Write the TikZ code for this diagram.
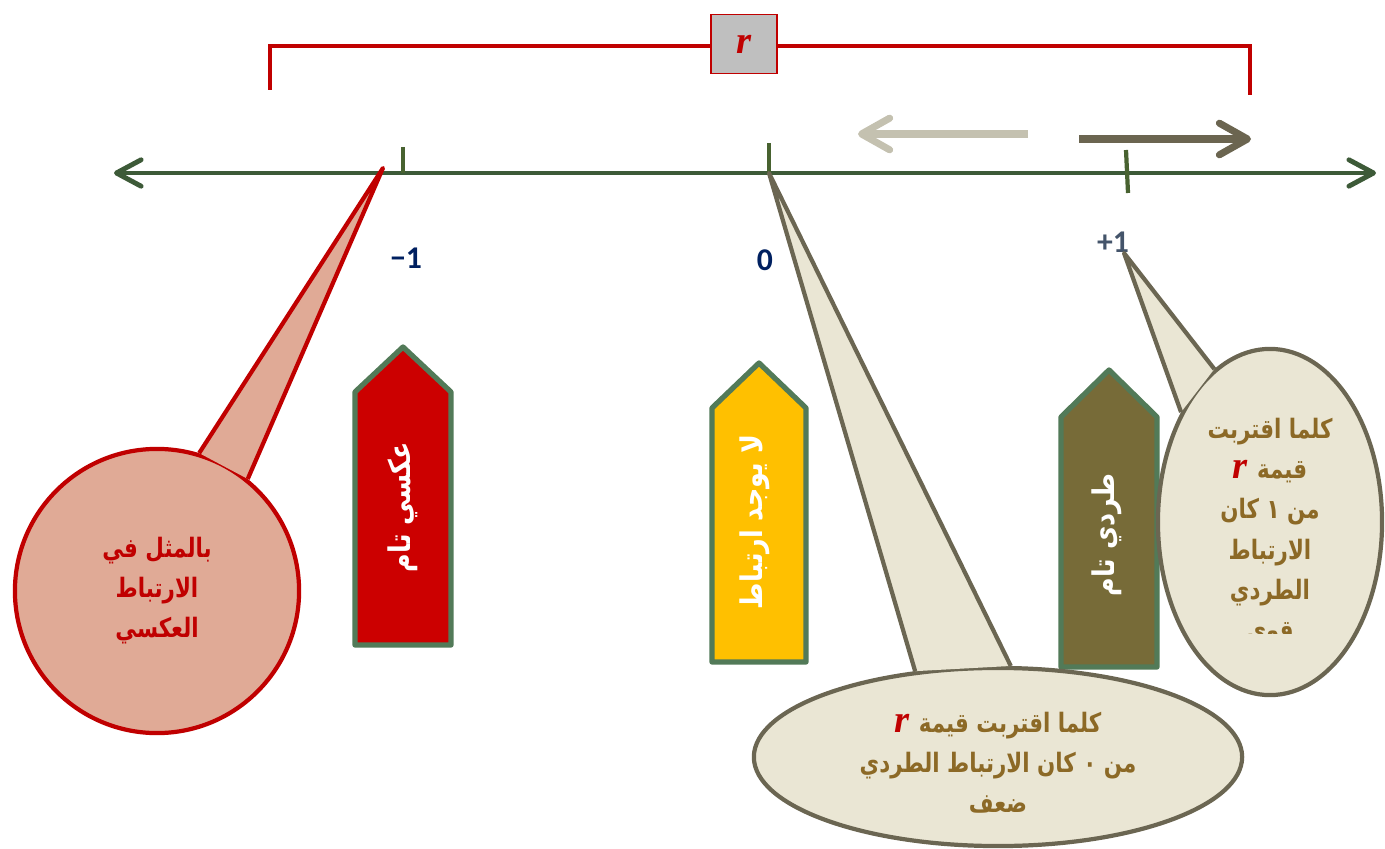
\documentclass[tikz,border=0pt]{standalone}
\usepackage{fontspec}
\usepackage{tikz}
\usetikzlibrary{positioning, shapes.geometric, arrows.meta}
\newfontfamily\arabicfont[Script=Arabic]{DejaVu Sans}
\newfontfamily\numfont{Carlito}
\newfontfamily\rfont{Liberation Serif}
\TeXXeTstate=1
\definecolor{axisgreen}{RGB}{61,90,56}
\definecolor{tickgreen}{RGB}{72,98,48}
\definecolor{bracketred}{RGB}{192,0,0}
\definecolor{boxgray}{RGB}{191,191,191}
\definecolor{navy}{RGB}{0,32,96}
\definecolor{slate}{RGB}{68,84,106}
\definecolor{lightarrow}{RGB}{196,193,176}
\definecolor{darkarrow}{RGB}{107,101,80}
\definecolor{pentborder}{RGB}{82,122,88}
\definecolor{pentred}{RGB}{204,0,0}
\definecolor{pentyellow}{RGB}{255,192,0}
\definecolor{pentolive}{RGB}{119,107,56}
\definecolor{bubblefill}{RGB}{234,230,212}
\definecolor{bubbleline}{RGB}{107,102,82}
\definecolor{bubbletext}{RGB}{140,105,38}
\definecolor{pinkfill}{RGB}{224,170,150}
\newcommand{\ar}[2][0.8]{\scalebox{#1}[1]{\beginR #2\endR}}
\newcommand{\rval}{\hbox{{\rfont\bfseries\itshape\fontsize{11}{12}\selectfont\color{bracketred}r}}}

\begin{document}
\begin{tikzpicture}[x=0.01cm, y=-0.01cm,
    axis/.style={draw=axisgreen, line width=1.4pt, <->, >={Straight Barb[round,length=7pt,width=7.5pt]}},
    tickmark/.style={draw=tickgreen, line width=1.2pt},
    num/.style={font=\numfont\bfseries\fontsize{9}{11}\selectfont},
    hint/.style={line width=2pt, ->, >={Straight Barb[round,length=8pt,width=9pt]}},
    pent/.style={draw=pentborder, line width=1.5pt, line join=round},
    penttext/.style={rotate=90, text=white, font=\arabicfont\bfseries\fontsize{8.5}{12}\selectfont},
    bubble/.style={draw=bubbleline, fill=bubblefill, line width=1.2pt, inner sep=0pt},
    bubbletxt/.style={align=center, text=bubbletext, font=\arabicfont\bfseries\fontsize{7.6}{11.4}\selectfont}]
    \useasboundingbox (0,0) rectangle (1385,849);

    % range of r
    \draw[bracketred, line width=1.4pt] (270,90) -- (270,46) -- (1250,46) -- (1250,95);
    \node[draw=bracketred, fill=boxgray, minimum width=0.66cm, minimum height=0.59cm, inner sep=0pt] (rbox) at (744,44) {\rval};

    % direction hints
    \draw[hint, lightarrow] (1028,134) -- (858,134);
    \draw[hint, darkarrow] (1079,139) -- (1251,139);

    % number line
    \coordinate (left) at (114,173);
    \coordinate (right) at (1376,173);
    \draw[axis] (left) -- (right);
    \coordinate (m1) at (403,173);
    \coordinate (o) at (769,173);
    \coordinate (p1) at (1127,173);
    \draw[tickmark] (403,147) -- (m1);
    \draw[tickmark] (769,143) -- (o);
    \draw[tickmark] (1126,150) -- (1128,193);
    \node[num, text=navy] (mone) at (406,258) {\beginL\hbox{−}\hbox{1}\endL};
    \node[num, text=navy] (zero) at (765,260) {0};
    \node[num, text=slate] (pone) at (1113,242) {\hbox{+}\hbox{1}};

    % labels on arrows
    \draw[pent, fill=pentred] (355,645) -- (355,392) -- (403,347) -- (451,392) -- (451,645) -- cycle;
    \node[penttext] (inv) at (403,507) {\ar[0.85]{عكسي تام}};
    \draw[pent, fill=pentyellow] (712,662) -- (712,408) -- (759,363) -- (806,408) -- (806,662) -- cycle;
    \node[penttext] (none) at (755,522) {\ar[0.85]{لا يوجد ارتباط}};
    \draw[pent, fill=pentolive] (1061,667) -- (1061,417) -- (1109,370) -- (1157,417) -- (1157,667) -- cycle;
    \node[penttext] (dir) at (1107,535) {\ar[0.85]{طردي تام}};

    % callout at -1
    \node[circle, draw=bracketred, fill=pinkfill, line width=1.2pt, minimum size=2.84cm, inner sep=0pt] (cneg) at (157,591) {};
    \coordinate (tipneg) at (383,168);
    \fill[pinkfill] (cneg.73) -- (tipneg) -- (cneg.51) -- cycle;
    \draw[bracketred, line width=1.2pt, line join=round] (cneg.73) -- (tipneg) -- (cneg.51);
    \node[bubbletxt, text=bracketred] (tneg) at (157,591) {\ar{بالمثل في}\\\ar{الارتباط}\\\ar{العكسي}};

    % callout at 0
    \node[bubble, ellipse, minimum width=4.88cm, minimum height=1.78cm] (czero) at (998,757) {};
    \fill[bubblefill] (czero.134) -- (o) -- (czero.82) -- cycle;
    \draw[bubbleline, line width=1.2pt, line join=round] (czero.134) -- (o) -- (czero.82);
    \node[bubbletxt] (tzero) at (998,763) {\rval\ \ar{كلما اقتربت قيمة}\\\ar{من ٠ كان الارتباط الطردي}\\\ar{ضعف}};

    % callout at +1
    \node[bubble, ellipse, minimum width=2.24cm, minimum height=3.46cm] (cpos) at (1270,522) {};
    \coordinate (tippos) at (1124,253);
    \fill[bubblefill] (cpos.129) -- (tippos) -- (cpos.110) -- cycle;
    \draw[bubbleline, line width=1.2pt, line join=round] (cpos.129) -- (tippos) -- (cpos.110);
    \begin{scope}
        \clip (1150,380) rectangle (1385,633);
        \node[bubbletxt, anchor=north] (tpos) at (1270,406) {\ar{كلما اقتربت}\\\rval\ \ar{قيمة}\\\ar{من ١ كان}\\\ar{الارتباط}\\\ar{الطردي}\\\ar{قوي}};
    \end{scope}
\end{tikzpicture}
\end{document}
